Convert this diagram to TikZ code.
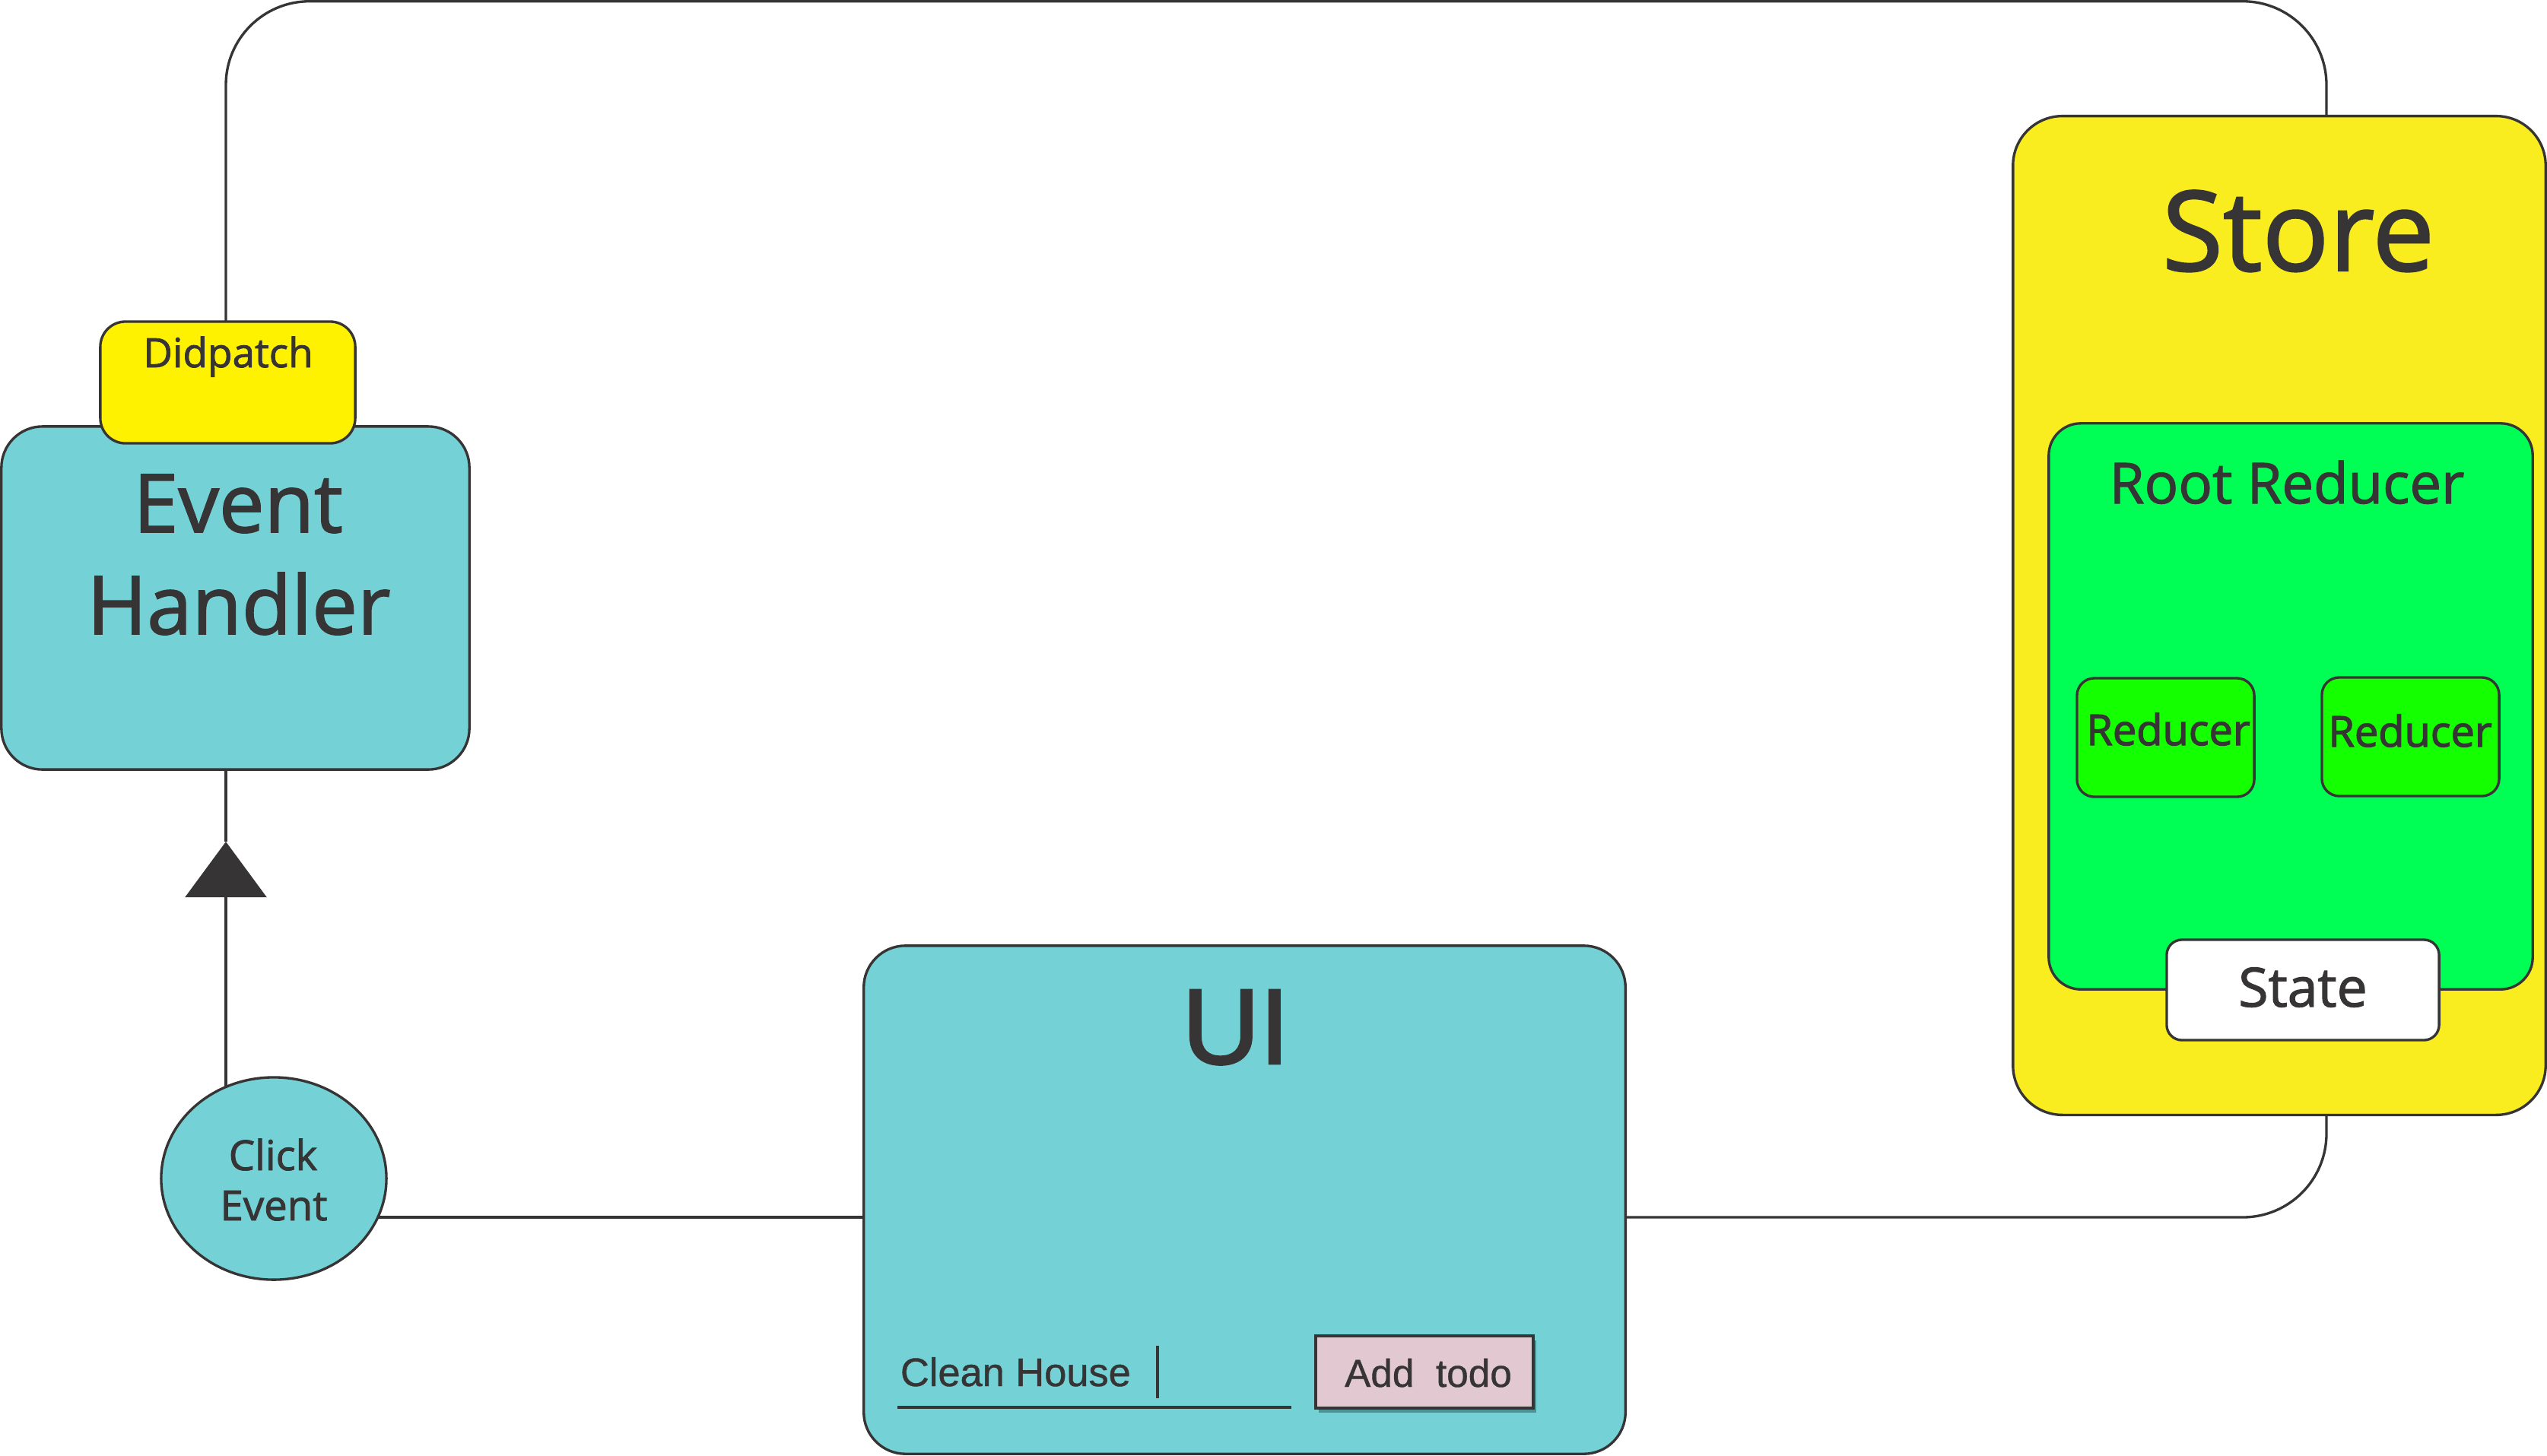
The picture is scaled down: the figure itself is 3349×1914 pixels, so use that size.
\documentclass[tikz,border=0pt]{standalone}
\usepackage{fontspec}
\setmainfont{Open Sans}[FakeBold=1.6]
\newfontfamily\reducerf{Open Sans}[FakeBold=2.2]
\newfontfamily\arialf{Liberation Sans}[FakeBold=0.8]
\newfontfamily\arialbf{Liberation Sans}[FakeBold=2.0]
\usetikzlibrary{arrows.meta,shadows,shapes.geometric}
\definecolor{ink}{HTML}{363435}
\definecolor{tealbox}{HTML}{74D1D5}
\definecolor{storey}{HTML}{F9ED20}
\definecolor{dispy}{HTML}{FFF200}
\definecolor{rootg}{HTML}{00FF55}
\definecolor{redg}{HTML}{14FF00}
\definecolor{btnpink}{HTML}{E2C9D1}
\pgfdeclarelayer{bg}
\pgfsetlayers{bg,main}
\def\pxl{0.28453pt}
\tikzset{
  box/.style={draw=ink, line width=0.95pt, inner sep=0pt, outer sep=0pt},
  conn/.style={draw=ink, line width=0.95pt},
  lbl/.style={inner sep=0pt, outer sep=0pt, text=ink, anchor=base},
}
\begin{document}
\begin{tikzpicture}[x=0.01cm,y=-0.01cm]
\useasboundingbox (0,0) rectangle (3349,1914);
% Event handler and dispatch
\node[box, fill=tealbox, rounded corners=15.4pt, minimum width=615*\pxl, minimum height=451*\pxl] (eh) at (309.5,786.5) {};
\node[box, fill=dispy, rounded corners=9.4pt, minimum width=335*\pxl, minimum height=160*\pxl] (dp) at (299.5,503) {};
\node[lbl, font=\fontsize{15.1pt}{18pt}\selectfont] (tdp) at (300,483) {Didpatch};
\node[lbl, font=\fontsize{30.3pt}{36pt}\selectfont] (teh1) at (313,700) {Event};
\node[lbl, font=\fontsize{30.3pt}{36pt}\selectfont] (teh2) at (314,834) {Handler};
% Click event
\node[box, ellipse, fill=tealbox, minimum width=296*\pxl, minimum height=266*\pxl] (ce) at (360,1550) {};
\node[lbl, font=\fontsize{15.5pt}{19pt}\selectfont] (tce1) at (359,1539) {Click};
\node[lbl, font=\fontsize{15.5pt}{19pt}\selectfont] (tce2) at (360,1605) {Event};
% UI
\node[box, fill=tealbox, rounded corners=15.6pt, minimum width=1001*\pxl, minimum height=668*\pxl] (ui) at (1636.5,1578) {};
\node[lbl, font=\arialbf\fontsize{40.1pt}{48pt}\selectfont] (tui) at (1625,1399) {UI};
\node[lbl, anchor=base west, font=\arialf\fontsize{14.9pt}{17pt}\selectfont] (tclean) at (1184,1823) {Clean House};
\draw[ink, line width=1.05pt] (1180,1851) -- (1698,1851);
\draw[ink, line width=0.9pt] (1522,1770) -- (1522,1839);
\node[box, line width=1.1pt, fill=btnpink, drop shadow={shadow xshift=1.2pt, shadow yshift=-1.6pt, opacity=0.3, fill=black}, minimum width=286*\pxl, minimum height=95*\pxl] (btn) at (1873,1804.5) {};
\node[lbl, font=\arialf\fontsize{14.6pt}{17pt}\selectfont] (tbtn) at (1878,1824) {Add\ \ todo};
% Store
\node[box, fill=storey, rounded corners=18.5pt, minimum width=700*\pxl, minimum height=1313*\pxl] (st) at (2997,809.5) {};
\node[lbl, font=\fontsize{41.5pt}{50pt}\selectfont] (tst) at (3022,356) {Store};
\node[box, fill=rootg, rounded corners=12pt, minimum width=636*\pxl, minimum height=744*\pxl] (rr) at (3012,929) {};
\node[lbl, font=\fontsize{21.1pt}{25pt}\selectfont] (trr) at (3007,662) {Root Reducer};
\node[box, fill=redg, rounded corners=6.5pt, minimum width=233*\pxl, minimum height=156*\pxl] (r1) at (2847.5,970) {};
\node[lbl, font=\reducerf\fontsize{15.9pt}{19pt}\selectfont] (tr1) at (2851,980) {Reducer};
\node[box, fill=redg, rounded corners=6.5pt, minimum width=233*\pxl, minimum height=156*\pxl] (r2) at (3169.5,969) {};
\node[lbl, font=\reducerf\fontsize{15.9pt}{19pt}\selectfont] (tr2) at (3169,982) {Reducer};
\node[box, fill=white, rounded corners=5.7pt, minimum width=358*\pxl, minimum height=132*\pxl] (sta) at (3028,1302) {};
\node[lbl, font=\fontsize{20.3pt}{24pt}\selectfont] (tsta) at (3028,1324) {State};
% helper coordinates
\coordinate (vx) at (297,0);
\coordinate (sx) at (3059,0);
\coordinate (hy) at (0,1601);
\coordinate (tipc) at (297,1107);
\coordinate (tl) at (297,1.7);
\coordinate (tr) at (3059,1.7);
\begin{pgfonlayer}{bg}
\draw[conn, rounded corners=31.3pt] (dp.center -| vx) -- (tl) -- (tr) -- (st.center -| sx);
\draw[conn, -{Triangle[width=30.4pt,length=20.8pt]}] (ce.center -| vx) -- (tipc);
\draw[conn] (tipc) -- (eh.center -| vx);
\draw[conn] (ce.center |- hy) -- (ui.center |- hy);
\draw[conn, rounded corners=31.3pt] (ui.center |- hy) -- (sx |- hy) -- (st.center -| sx);
\end{pgfonlayer}
\end{tikzpicture}
\end{document}
